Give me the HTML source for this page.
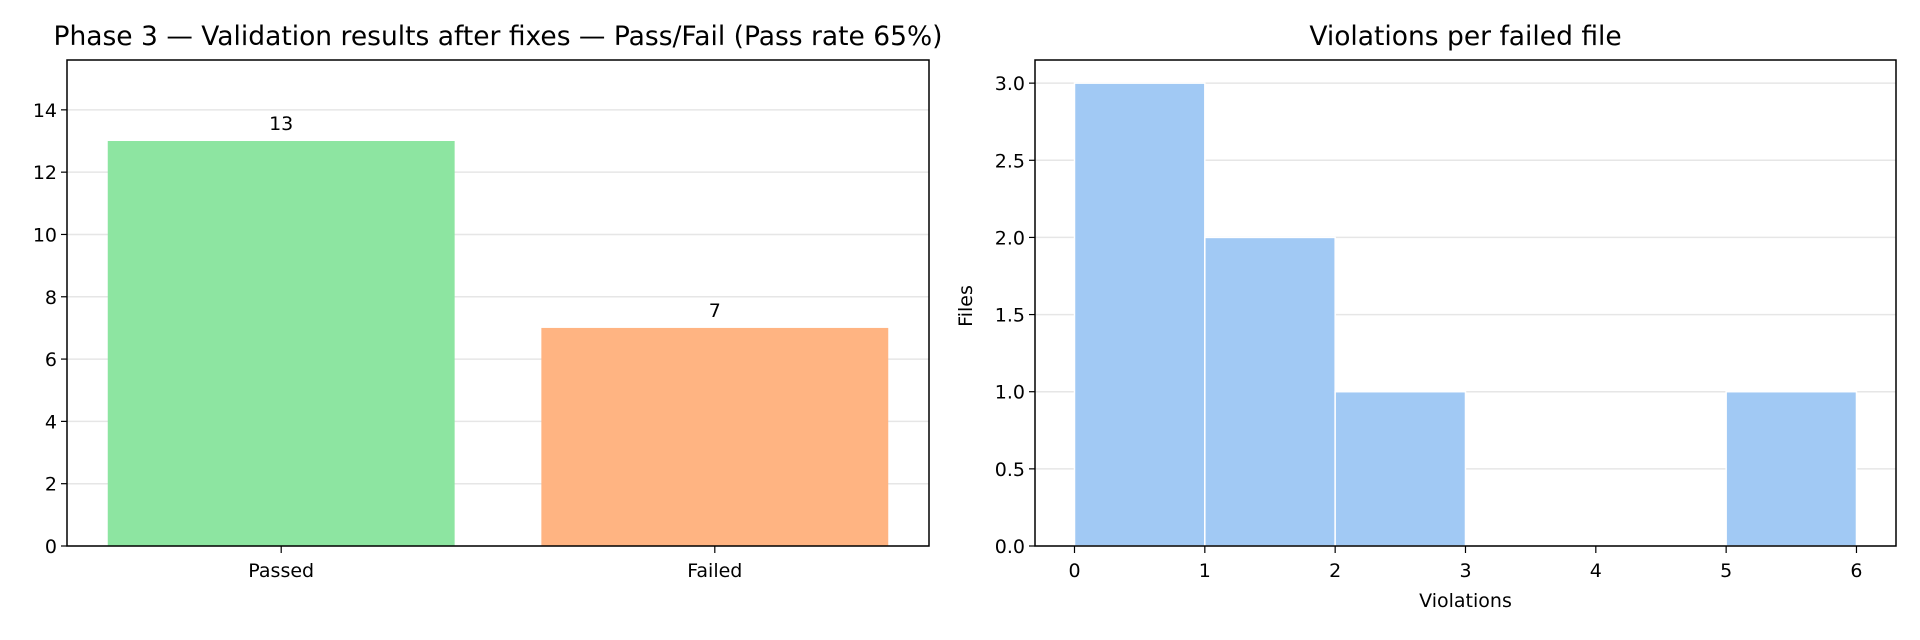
<!DOCTYPE html>
<html><head><meta charset="utf-8"><style>
html,body{margin:0;padding:0;background:#fff;}
svg{display:block;font-family:"DejaVu Sans","Liberation Sans",sans-serif;}
</style></head><body>
<svg id="c" width="1920" height="640" viewBox="0 0 1920 640" xmlns="http://www.w3.org/2000/svg"></svg>
<script>
const passCategories = ["Passed","Failed"];
const passValues = [13,7];
const passColors = ["#8de5a1","#ffb482"];
const passTicks = [0,2,4,6,8,10,12,14];
const histEdges = [0,1,2,3,4,5,6];
const histCounts = [3,2,1,0,0,1];
const histYTicks = ["0.0","0.5","1.0","1.5","2.0","2.5","3.0"];
const histXTicks = [0,1,2,3,4,5,6];

const svg = document.getElementById('c');
const NS = 'http://www.w3.org/2000/svg';
function mk(tag, attrs, parent){const e=document.createElementNS(NS,tag);for(const k in attrs)e.setAttribute(k,attrs[k]);(parent||svg).appendChild(e);return e;}
function txt(s, attrs){const e=mk('text',attrs);e.textContent=s;return e;}

// ---- Left chart ----
const L={x0:67,x1:929,y0:60,y1:546};
const lx=v=>L.x0+(v+0.494)/(1.988)*(L.x1-L.x0);
const ly=v=>L.y1-v/15.6*(L.y1-L.y0);
let t=txt("Phase 3 — Validation results after fixes — Pass/Fail (Pass rate 65%)",{x:(L.x0+L.x1)/2,y:45,'text-anchor':'middle','font-size':26.5,fill:'#000'});

passTicks.forEach(v=>{
  let g=mk('line',{x1:L.x0,x2:L.x1,y1:ly(v),y2:ly(v),stroke:'#e6e6e6','stroke-width':1.5});
  
  mk('line',{x1:L.x0-6,x2:L.x0,y1:ly(v),y2:ly(v),stroke:'#000','stroke-width':1.2});
  let tl=txt(String(v),{x:L.x0-10,y:ly(v)+7,'text-anchor':'end','font-size':19,fill:'#000'});
  
});
passCategories.forEach((c,i)=>{
  let r=mk('rect',{x:lx(i-0.4),y:ly(passValues[i]),width:lx(i+0.4)-lx(i-0.4),height:ly(0)-ly(passValues[i]),fill:passColors[i]});
  
  let vl=txt(String(passValues[i]),{x:lx(i),y:ly(passValues[i])-11,'text-anchor':'middle','font-size':19,fill:'#000'});
  
  mk('line',{x1:lx(i),x2:lx(i),y1:L.y1,y2:L.y1+7,stroke:'#000','stroke-width':1.2});
  let xl=txt(c,{x:lx(i),y:577,'text-anchor':'middle','font-size':19,fill:'#000'});
  
});
let fr=mk('rect',{x:L.x0,y:L.y0,width:L.x1-L.x0,height:L.y1-L.y0,fill:'none',stroke:'#000','stroke-width':1.5});


// ---- Right chart ----
const R={x0:1035,x1:1896,y0:60,y1:546};
const rx=v=>1074.5+v*130.33;
const ry=v=>R.y1-v/3.15*(R.y1-R.y0);
t=txt("Violations per failed file",{x:(R.x0+R.x1)/2,y:45,'text-anchor':'middle','font-size':26.5,fill:'#000'});

histYTicks.forEach(s=>{
  const v=parseFloat(s);
  let g=mk('line',{x1:R.x0,x2:R.x1,y1:ry(v),y2:ry(v),stroke:'#e6e6e6','stroke-width':1.5});
  
  mk('line',{x1:R.x0-6,x2:R.x0,y1:ry(v),y2:ry(v),stroke:'#000','stroke-width':1.2});
  let tl=txt(s,{x:R.x0-10,y:ry(v)+7,'text-anchor':'end','font-size':19,fill:'#000'});
  
});
histCounts.forEach((n,i)=>{
  if(n<=0)return;
  let r=mk('rect',{x:rx(histEdges[i]),y:ry(n),width:rx(histEdges[i+1])-rx(histEdges[i]),height:ry(0)-ry(n),fill:'#a1c9f4',stroke:'#fff','stroke-width':1.5});
  
});
histXTicks.forEach(v=>{
  mk('line',{x1:rx(v),x2:rx(v),y1:R.y1,y2:R.y1+7,stroke:'#000','stroke-width':1.2});
  let xl=txt(String(v),{x:rx(v),y:577,'text-anchor':'middle','font-size':19,fill:'#000'});
  
});
fr=mk('rect',{x:R.x0,y:R.y0,width:R.x1-R.x0,height:R.y1-R.y0,fill:'none',stroke:'#000','stroke-width':1.5});

let xa=txt("Violations",{x:(R.x0+R.x1)/2,y:607,'text-anchor':'middle','font-size':19,fill:'#000'});

let ya=txt("Files",{x:0,y:0,'text-anchor':'middle','font-size':19,fill:'#000',transform:'translate(972,306) rotate(-90)'});

</script>
</body></html>
